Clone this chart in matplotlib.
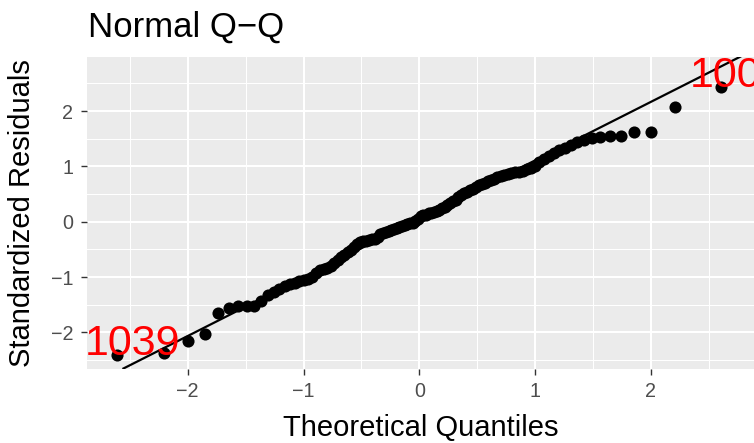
from statistics import NormalDist
import matplotlib
matplotlib.use("Agg")
import matplotlib.pyplot as plt

plt.rcParams['font.family'] = ['Liberation Sans', 'DejaVu Sans']

# sorted standardized residuals (110 obs)
std_resid = [
    -2.40, -2.38, -2.15, -2.03, -1.65, -1.56, -1.53, -1.53, -1.52, -1.44,
    -1.33, -1.27, -1.22, -1.17, -1.12, -1.10, -1.08, -1.06, -1.03, -1.00,
    -0.92, -0.88, -0.86, -0.84, -0.80, -0.75, -0.70, -0.64, -0.60, -0.55,
    -0.51, -0.46, -0.41, -0.36, -0.35, -0.34, -0.33, -0.32, -0.31, -0.27,
    -0.23, -0.21, -0.19, -0.17, -0.15, -0.13, -0.12, -0.10, -0.08, -0.06,
    -0.045, -0.03, -0.015, 0.02, 0.05, 0.10, 0.12, 0.13, 0.15, 0.165,
    0.18, 0.20, 0.21, 0.24, 0.27, 0.31, 0.34, 0.37, 0.40, 0.44,
    0.48, 0.51, 0.54, 0.58, 0.60, 0.63, 0.66, 0.68, 0.70, 0.73,
    0.76, 0.78, 0.80, 0.82, 0.84, 0.86, 0.88, 0.89, 0.90, 0.92,
    0.95, 0.97, 1.00, 1.07, 1.14, 1.19, 1.24, 1.29, 1.33, 1.39,
    1.44, 1.48, 1.51, 1.53, 1.54, 1.54, 1.63, 1.63, 2.07, 2.44,
]

# labelled observations: (index in sorted list, label)
point_labels = [(0, "1039"), (109, "100")]

# reference line (intercept, slope) as drawn
line_intercept = 0.05
line_slope = 1.058

x_ticks = [-2, -1, 0, 1, 2]
y_ticks = [-2, -1, 0, 1, 2]

# theoretical quantiles, same as R's qqnorm / ppoints
n = len(std_resid)
theo = [NormalDist().inv_cdf((i - 0.5) / n) for i in range(1, n + 1)]

W, H = 754, 443
fig = plt.figure(figsize=(W / 100, H / 100), dpi=100)
ax = fig.add_axes([87.3 / W, (H - 368.5) / H, (W - 87.3) / W, (368.5 - 56.7) / H])

ax.set_facecolor("#EBEBEB")
for s in ax.spines.values():
    s.set_visible(False)

ax.set_xlim(-2.867, 2.890)
ax.set_ylim(-2.653, 2.982)
ax.set_xticks(x_ticks)
ax.set_yticks(y_ticks)
ax.set_xticks([-2.5, -1.5, -0.5, 0.5, 1.5, 2.5], minor=True)
ax.set_yticks([-2.5, -1.5, -0.5, 0.5, 1.5, 2.5], minor=True)
ax.grid(which="major", color="white", linewidth=1.5)
ax.grid(which="minor", color="white", linewidth=0.75)
ax.set_axisbelow(True)
ax.tick_params(which="major", length=4, width=1.0, color="#333333",
               labelsize=14.2, labelcolor="#4D4D4D", pad=6)
ax.tick_params(which="minor", length=0)

ax.axline((0, line_intercept), slope=line_slope, color="black", linewidth=1.6, zorder=2)
ax.scatter(theo, std_resid, s=76, color="black", linewidths=0, zorder=3)

for idx, lab in point_labels:
    ax.annotate(lab, (theo[idx], std_resid[idx]), xytext=(-32, 0),
                textcoords="offset pixels", ha="left", va="baseline",
                color="red", fontsize=31, annotation_clip=False,
                clip_on=True, zorder=4)

fig.text(88 / W, (H - 37) / H, "Normal Q\u2212Q", fontsize=25, va="baseline", ha="left")
fig.text(22.5 / W, (H - 213) / H, "Standardized Residuals", fontsize=21,
         rotation=90, va="center", ha="center")
fig.text(420.6 / W, (H - 436) / H, "Theoretical Quantiles", fontsize=21,
         va="baseline", ha="center")

fig.savefig("out.png", dpi=100)
